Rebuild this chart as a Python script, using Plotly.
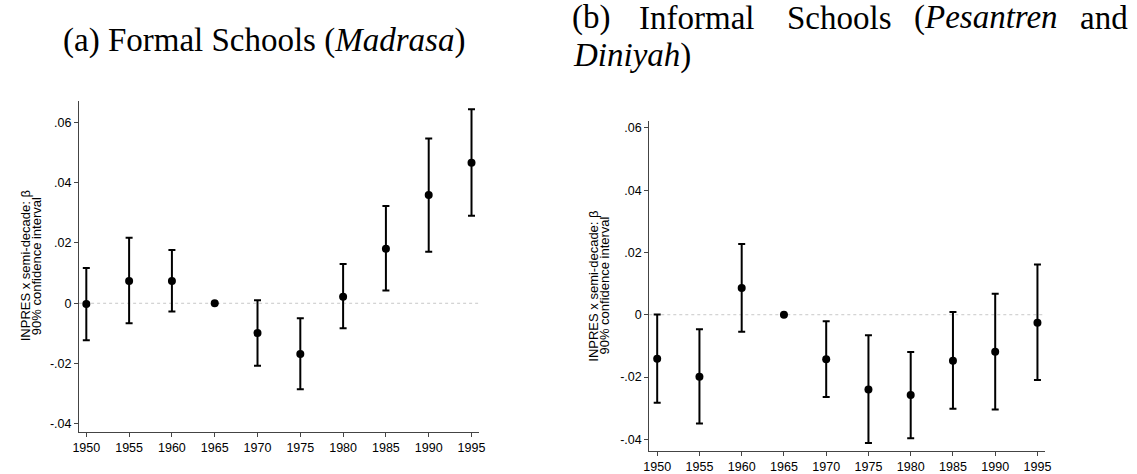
import plotly.graph_objects as go

W, H = 1137, 474

years = [1950, 1955, 1960, 1965, 1970, 1975, 1980, 1985, 1990, 1995]
year_labels = [str(y) for y in years]

# Panel (a): Formal schools (Madrasa)
a_beta = [-0.0002, 0.0074, 0.0074, 0.0, -0.0099, -0.0168, 0.0022, 0.0181, 0.0359, 0.0466]
a_hi = [0.0117, 0.0217, 0.0177, 0.0, 0.0010, -0.0050, 0.0130, 0.0323, 0.0547, 0.0644]
a_lo = [-0.0123, -0.0066, -0.0027, 0.0, -0.0207, -0.0285, -0.0083, 0.0042, 0.0171, 0.0290]

# Panel (b): Informal schools (Pesantren and Diniyah)
b_beta = [-0.0141, -0.0199, 0.0086, 0.0, -0.0143, -0.0240, -0.0258, -0.0148, -0.0119, -0.0026]
b_hi = [0.0001, -0.0047, 0.0227, 0.0, -0.0021, -0.0066, -0.0120, 0.0009, 0.0067, 0.0161]
b_lo = [-0.0283, -0.0349, -0.0055, 0.0, -0.0264, -0.0412, -0.0397, -0.0302, -0.0304, -0.0210]

y_tickvals = [-0.04, -0.02, 0, 0.02, 0.04, 0.06]
y_ticktext = ["-.04", "-.02", "0", ".02", ".04", ".06"]

SANS = "Liberation Sans, Arial, sans-serif"
SERIF = "Liberation Serif, Times New Roman, serif"
AXCOL = "#444444"

fig = go.Figure()


def add_panel(beta, hi, lo, xa, ya):
    plus = [h - b for h, b in zip(hi, beta)]
    minus = [b - l for b, l in zip(beta, lo)]
    fig.add_trace(go.Scatter(
        x=years, y=beta, mode="markers",
        marker=dict(color="black", size=8),
        error_y=dict(type="data", symmetric=False, array=plus, arrayminus=minus,
                     color="black", thickness=2, width=3.5),
        xaxis=xa, yaxis=ya, showlegend=False, hoverinfo="skip"))


add_panel(a_beta, a_hi, a_lo, "x", "y")
add_panel(b_beta, b_hi, b_lo, "x2", "y2")


def px_x(p):
    return p / W


def px_y(p):
    return 1 - p / H


common_x = dict(tickvals=years, ticktext=year_labels, ticks="outside", ticklen=4,
                tickwidth=1, tickcolor=AXCOL, showline=True, linecolor=AXCOL, linewidth=1.2,
                showgrid=False, zeroline=False, tickfont=dict(family=SANS, size=12.5, color="black"))
common_y = dict(tickvals=y_tickvals, ticktext=y_ticktext, ticks="outside", ticklen=4,
                tickwidth=1, tickcolor=AXCOL, showline=True, linecolor=AXCOL, linewidth=1.2,
                showgrid=False, zeroline=False,
                tickfont=dict(family=SANS, size=12.5, color="black"))

fig.update_layout(
    width=W, height=H, margin=dict(l=0, r=0, t=0, b=0),
    paper_bgcolor="white", plot_bgcolor="white",
    xaxis=dict(domain=[px_x(73), px_x(477.7)], range=[1949.158, 1995.854], anchor="y", **common_x),
    yaxis=dict(domain=[px_y(432), px_y(100.7)], range=[-0.0427, 0.0672], anchor="x", **common_y),
    xaxis2=dict(domain=[px_x(650.3), px_x(1050.7)], range=[1949.065, 1995.865], anchor="y2", **common_x),
    yaxis2=dict(domain=[px_y(451), px_y(120.7)], range=[-0.04376, 0.0623], anchor="x2", **common_y),
)

# dotted zero reference lines
for xr, yr in [("x domain", "y"), ("x2 domain", "y2")]:
    fig.add_shape(type="line", xref=xr, yref=yr, x0=0, x1=1, y0=0, y1=0,
                  line=dict(color="#c8c8c8", width=1, dash="dot"), layer="below")

# y-axis titles (two tight lines each)
for (x1, x2, yc) in [(18.5, 29.5, 266), (593, 604, 286)]:
    fig.add_annotation(text="INPRES x semi-decade: β", x=px_x(x1), y=px_y(yc), xref="paper", yref="paper",
                       textangle=-90, showarrow=False, xanchor="center", yanchor="middle",
                       font=dict(family=SANS, size=13, color="black"))
    fig.add_annotation(text="90% confidence interval", x=px_x(x2), y=px_y(yc), xref="paper", yref="paper",
                       textangle=-90, showarrow=False, xanchor="center", yanchor="middle",
                       font=dict(family=SANS, size=13, color="black"))

# Captions
TF = dict(family=SERIF, size=33, color="black")
fig.add_annotation(text="(a) Formal Schools (<i>Madrasa</i>)", x=px_x(55), y=px_y(41), xref="paper", yref="paper",
                   showarrow=False, xanchor="left", yanchor="middle", font=TF)
for word, xw in [("(b)", 570), ("Informal", 638), ("Schools", 788), ("(<i>Pesantren</i>", 916), ("and", 1084)]:
    fig.add_annotation(text=word, x=px_x(xw), y=px_y(17.5), xref="paper", yref="paper",
                       showarrow=False, xanchor="left", yanchor="middle", font=TF)
fig.add_annotation(text="<i>Diniyah</i>)", x=px_x(571), y=px_y(55), xref="paper", yref="paper",
                   showarrow=False, xanchor="left", yanchor="middle", font=TF)

fig.write_html("out.html")
